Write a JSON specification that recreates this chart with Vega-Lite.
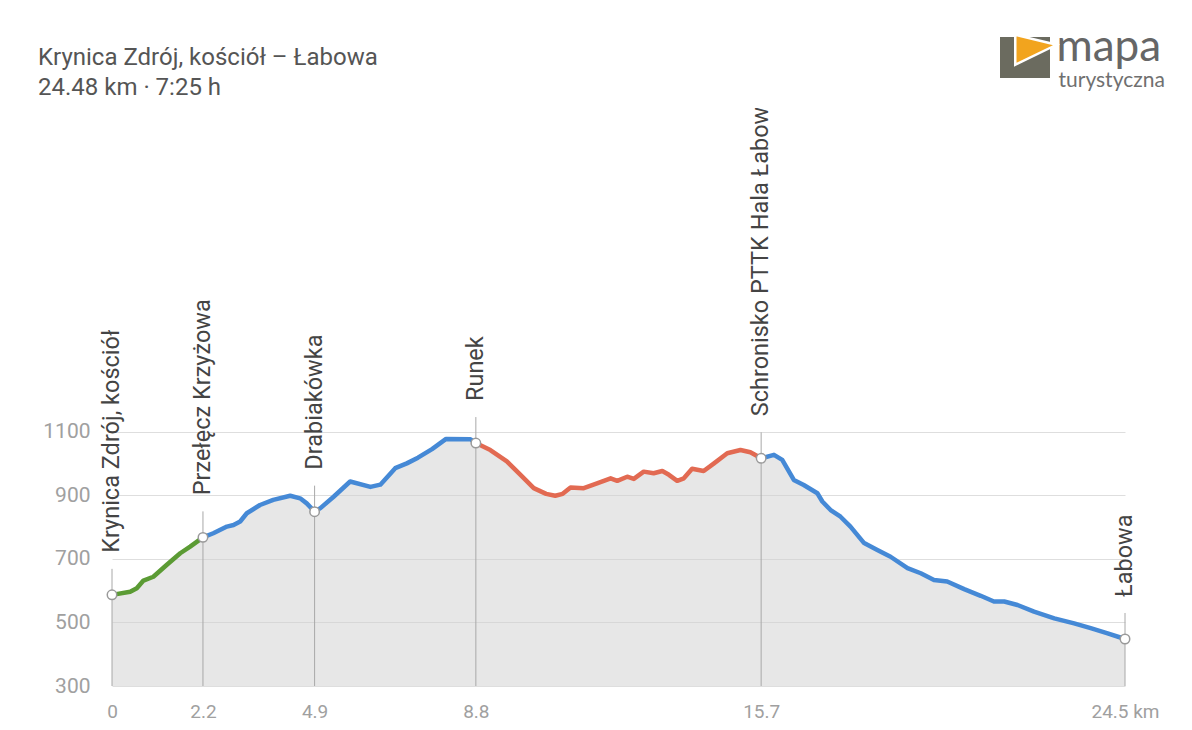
{
  "$schema": "https://vega.github.io/schema/vega-lite/v6.json",
  "width": 1013,
  "height": 578,
  "autosize": {"type": "none"},
  "padding": {"left": 112, "top": 108, "right": 67, "bottom": 44},
  "background": "#ffffff",
  "config": {"view": {"stroke": null}, "font": "Roboto"},
  "title": {
    "text": "Krynica Zdrój, kościół – Łabowa",
    "subtitle": "24.48 km · 7:25 h",
    "anchor": "start",
    "frame": "group",
    "dx": -74,
    "offset": -75,
    "fontSize": 24,
    "subtitleFontSize": 24,
    "subtitlePadding": 6,
    "fontWeight": "normal",
    "color": "#555555",
    "subtitleColor": "#555555",
    "font": "Roboto",
    "subtitleFont": "Roboto"
  },
  "datasets": {
    "profile": [
      {"km": 0, "elev": 587, "seg": "g"},
      {"km": 0.44, "elev": 597, "seg": "g"},
      {"km": 0.6, "elev": 608, "seg": "g"},
      {"km": 0.76, "elev": 632, "seg": "g"},
      {"km": 1.0, "elev": 644, "seg": "g"},
      {"km": 1.32, "elev": 681, "seg": "g"},
      {"km": 1.65, "elev": 718, "seg": "g"},
      {"km": 1.89, "elev": 739, "seg": "g"},
      {"km": 2.2, "elev": 768, "seg": "g"},
      {"km": 2.2, "elev": 768, "seg": "b1"},
      {"km": 2.45, "elev": 781, "seg": "b1"},
      {"km": 2.78, "elev": 802, "seg": "b1"},
      {"km": 2.94, "elev": 807, "seg": "b1"},
      {"km": 3.1, "elev": 818, "seg": "b1"},
      {"km": 3.26, "elev": 844, "seg": "b1"},
      {"km": 3.58, "elev": 870, "seg": "b1"},
      {"km": 3.9, "elev": 886, "seg": "b1"},
      {"km": 4.31, "elev": 899, "seg": "b1"},
      {"km": 4.55, "elev": 891, "seg": "b1"},
      {"km": 4.71, "elev": 875, "seg": "b1"},
      {"km": 4.9, "elev": 849, "seg": "b1"},
      {"km": 5.04, "elev": 860, "seg": "b1"},
      {"km": 5.36, "elev": 896, "seg": "b1"},
      {"km": 5.76, "elev": 944, "seg": "b1"},
      {"km": 6.25, "elev": 927, "seg": "b1"},
      {"km": 6.49, "elev": 934, "seg": "b1"},
      {"km": 6.85, "elev": 986, "seg": "b1"},
      {"km": 7.13, "elev": 1001, "seg": "b1"},
      {"km": 7.4, "elev": 1019, "seg": "b1"},
      {"km": 7.74, "elev": 1046, "seg": "b1"},
      {"km": 8.08, "elev": 1078, "seg": "b1"},
      {"km": 8.67, "elev": 1077, "seg": "b1"},
      {"km": 8.8, "elev": 1065, "seg": "b1"},
      {"km": 8.8, "elev": 1065, "seg": "r"},
      {"km": 9.15, "elev": 1043, "seg": "r"},
      {"km": 9.55, "elev": 1007, "seg": "r"},
      {"km": 9.88, "elev": 965, "seg": "r"},
      {"km": 10.2, "elev": 923, "seg": "r"},
      {"km": 10.5, "elev": 905, "seg": "r"},
      {"km": 10.72, "elev": 899, "seg": "r"},
      {"km": 10.9, "elev": 905, "seg": "r"},
      {"km": 11.09, "elev": 925, "seg": "r"},
      {"km": 11.41, "elev": 923, "seg": "r"},
      {"km": 11.73, "elev": 938, "seg": "r"},
      {"km": 12.06, "elev": 954, "seg": "r"},
      {"km": 12.22, "elev": 946, "seg": "r"},
      {"km": 12.46, "elev": 959, "seg": "r"},
      {"km": 12.62, "elev": 952, "seg": "r"},
      {"km": 12.86, "elev": 975, "seg": "r"},
      {"km": 13.1, "elev": 970, "seg": "r"},
      {"km": 13.31, "elev": 977, "seg": "r"},
      {"km": 13.47, "elev": 965, "seg": "r"},
      {"km": 13.67, "elev": 946, "seg": "r"},
      {"km": 13.83, "elev": 954, "seg": "r"},
      {"km": 14.03, "elev": 984, "seg": "r"},
      {"km": 14.31, "elev": 977, "seg": "r"},
      {"km": 14.56, "elev": 1001, "seg": "r"},
      {"km": 14.88, "elev": 1033, "seg": "r"},
      {"km": 15.2, "elev": 1043, "seg": "r"},
      {"km": 15.44, "elev": 1036, "seg": "r"},
      {"km": 15.7, "elev": 1017, "seg": "r"},
      {"km": 15.7, "elev": 1017, "seg": "b2"},
      {"km": 16.01, "elev": 1028, "seg": "b2"},
      {"km": 16.21, "elev": 1012, "seg": "b2"},
      {"km": 16.49, "elev": 949, "seg": "b2"},
      {"km": 16.73, "elev": 933, "seg": "b2"},
      {"km": 17.06, "elev": 907, "seg": "b2"},
      {"km": 17.18, "elev": 881, "seg": "b2"},
      {"km": 17.38, "elev": 854, "seg": "b2"},
      {"km": 17.62, "elev": 833, "seg": "b2"},
      {"km": 17.86, "elev": 802, "seg": "b2"},
      {"km": 18.19, "elev": 750, "seg": "b2"},
      {"km": 18.51, "elev": 728, "seg": "b2"},
      {"km": 18.83, "elev": 707, "seg": "b2"},
      {"km": 19.24, "elev": 671, "seg": "b2"},
      {"km": 19.56, "elev": 655, "seg": "b2"},
      {"km": 19.88, "elev": 634, "seg": "b2"},
      {"km": 20.2, "elev": 629, "seg": "b2"},
      {"km": 20.61, "elev": 605, "seg": "b2"},
      {"km": 21.01, "elev": 584, "seg": "b2"},
      {"km": 21.33, "elev": 566, "seg": "b2"},
      {"km": 21.58, "elev": 566, "seg": "b2"},
      {"km": 21.9, "elev": 555, "seg": "b2"},
      {"km": 22.3, "elev": 534, "seg": "b2"},
      {"km": 22.79, "elev": 513, "seg": "b2"},
      {"km": 23.27, "elev": 497, "seg": "b2"},
      {"km": 23.67, "elev": 482, "seg": "b2"},
      {"km": 24.08, "elev": 466, "seg": "b2"},
      {"km": 24.5, "elev": 448, "seg": "b2"}
    ],
    "waypoints": [
      {"name": "Krynica Zdrój, kościół", "km": 0, "elev": 587},
      {"name": "Przełęcz Krzyżowa", "km": 2.2, "elev": 768},
      {"name": "Drabiakówka", "km": 4.9, "elev": 849},
      {"name": "Runek", "km": 8.8, "elev": 1065},
      {"name": "Schronisko PTTK Hala Łabowska", "km": 15.7, "elev": 1017},
      {"name": "Łabowa", "km": 24.5, "elev": 448}
    ],
    "logo": [{"part": "logo"}]
  },
  "resolve": {"scale": {"fill": "independent"}, "legend": {"fill": "independent"}},
  "layer": [
    {
      "data": {"name": "profile"},
      "mark": {"type": "area", "fill": "#cfcfcf", "opacity": 0.5},
      "encoding": {
        "x": {
          "field": "km",
          "type": "quantitative",
          "scale": {"domain": [0, 24.5], "nice": false, "zero": false},
          "axis": {
            "values": [0, 2.2, 4.9, 8.8, 15.7, 24.5],
            "format": ".1~f",
            "labelExpr": "datum.value == 24.5 ? '24.5 km' : datum.label",
            "grid": false,
            "domain": false,
            "ticks": false,
            "labelFlush": false,
            "labelOverlap": false,
            "labelPadding": 16,
            "labelFontSize": 19,
            "labelColor": "#a0a0a0",
            "labelFont": "Roboto",
            "title": "turystyczna",
            "titleX": 946,
            "titleY": -600,
            "titleAlign": "left",
            "titleBaseline": "alphabetic",
            "titleFontSize": 21,
            "titleFontWeight": "normal",
            "titleColor": "#707070",
            "titleFont": "Lato"
          }
        },
        "y": {
          "field": "elev",
          "type": "quantitative",
          "scale": {"domain": [300, 2120], "nice": false, "zero": false},
          "axis": {
            "values": [300, 500, 700, 900, 1100],
            "format": "d",
            "grid": true,
            "gridColor": "#dedede",
            "domain": false,
            "ticks": false,
            "labelPadding": 22,
            "labelFontSize": 21,
            "labelColor": "#a0a0a0",
            "labelFont": "Roboto",
            "title": "mapa",
            "titleX": 944,
            "titleY": -48,
            "titleAngle": 0,
            "titleAlign": "left",
            "titleBaseline": "alphabetic",
            "titleFontSize": 44,
            "titleFontWeight": "normal",
            "titleColor": "#666666",
            "titleFont": "Lato"
          }
        },
        "y2": {"datum": 300}
      }
    },
    {
      "data": {"name": "waypoints"},
      "mark": {"type": "rule", "color": "#a8a8a8", "strokeWidth": 1, "yOffset": -26},
      "encoding": {
        "x": {"field": "km", "type": "quantitative"},
        "y": {"field": "elev", "type": "quantitative"},
        "y2": {"datum": 300}
      }
    },
    {
      "data": {"name": "profile"},
      "mark": {"type": "line", "strokeWidth": 4.5, "strokeCap": "round", "strokeJoin": "round"},
      "encoding": {
        "x": {"field": "km", "type": "quantitative"},
        "y": {"field": "elev", "type": "quantitative"},
        "color": {
          "field": "seg",
          "type": "nominal",
          "scale": {"domain": ["g", "b1", "r", "b2"], "range": ["#5b9b34", "#4589d6", "#e26a52", "#4589d6"]},
          "legend": null
        }
      }
    },
    {
      "data": {"name": "waypoints"},
      "mark": {"type": "point", "shape": "circle", "filled": true, "fill": "#ffffff", "stroke": "#9a9a9a", "strokeWidth": 1.5, "size": 90, "opacity": 1},
      "encoding": {
        "x": {"field": "km", "type": "quantitative"},
        "y": {"field": "elev", "type": "quantitative"}
      }
    },
    {
      "data": {"name": "waypoints"},
      "transform": [{"filter": "datum.km != 15.7"}],
      "mark": {"type": "text", "angle": 270, "align": "left", "baseline": "middle", "dx": 42, "fontSize": 23.5, "font": "Roboto", "color": "#444444"},
      "encoding": {
        "x": {"field": "km", "type": "quantitative"},
        "y": {"field": "elev", "type": "quantitative"},
        "text": {"field": "name"}
      }
    },
    {
      "data": {"name": "waypoints"},
      "transform": [{"filter": "datum.km == 15.7"}],
      "mark": {"type": "text", "angle": 270, "align": "left", "baseline": "middle", "dx": 42, "fontSize": 23.5, "font": "Roboto", "color": "#444444", "clip": true},
      "encoding": {
        "x": {"field": "km", "type": "quantitative"},
        "y": {"field": "elev", "type": "quantitative"},
        "text": {"field": "name"}
      }
    },
    {
      "data": {"name": "logo"},
      "mark": {"type": "text", "text": ""},
      "encoding": {
        "fill": {
          "datum": "box",
          "scale": {"domain": ["box"], "range": ["#6b6b5f"]},
          "legend": {
            "orient": "none",
            "legendX": 888,
            "legendY": -76,
            "title": null,
            "padding": 0,
            "labelExpr": "''",
            "symbolType": "M-1,-0.8L1,-0.8L1,0.84L-1,0.84Z",
            "symbolSize": 2500,
            "symbolStrokeWidth": 0,
            "symbolOpacity": 1
          }
        }
      }
    },
    {
      "data": {"name": "logo"},
      "mark": {"type": "text", "text": ""},
      "encoding": {
        "fill": {
          "datum": "flag",
          "scale": {"domain": ["flag"], "range": ["#f2a41e"]},
          "legend": {
            "orient": "none",
            "legendX": 888,
            "legendY": -76,
            "title": null,
            "padding": 0,
            "labelExpr": "''",
            "symbolType": "M-0.45,-0.95L1.2,-0.55L-0.45,0.25Z",
            "symbolSize": 2500,
            "symbolStrokeColor": "#ffffff",
            "symbolStrokeWidth": 2.5,
            "symbolOpacity": 1
          }
        }
      }
    }
  ]
}
